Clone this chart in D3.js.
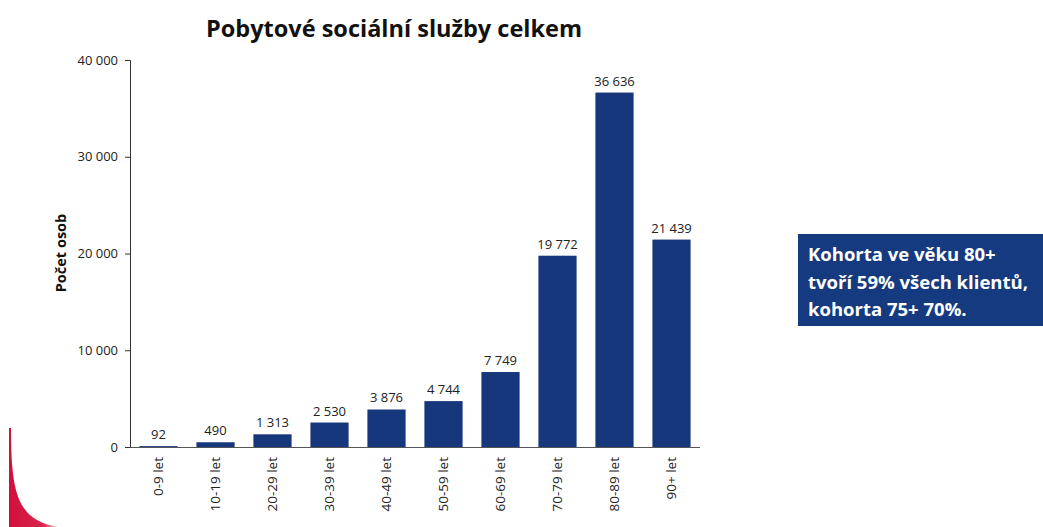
<!DOCTYPE html>
<html><head><meta charset="utf-8">
<script src="https://cdn.jsdelivr.net/npm/d3@7"></script>
<style>body{margin:0;background:#fff;} svg{display:block;font-family:"Open Sans",Lato,sans-serif;}</style>
</head><body>
<svg id="c" width="1043" height="527"></svg>
<script>
const categories = ["0-9 let","10-19 let","20-29 let","30-39 let","40-49 let","50-59 let","60-69 let","70-79 let","80-89 let","90+ let"];
const values = [92,490,1313,2530,3876,4744,7749,19772,36636,21439];
const yTicks = [0,10000,20000,30000,40000];
const title = "Pobytové sociální služby celkem";
const yLabel = "Počet osob";
const noteLines = ["Kohorta ve věku 80+","tvoří 59% všech klientů,","kohorta 75+ 70%."];

const fmtSp = v => d3.format(",")(v).replace(/,/g, " ");
const svg = d3.select("#c");
const color = "#16377b";

// decorative red corner
const defs = svg.append("defs");
const g1 = defs.append("linearGradient").attr("id","rg").attr("x1","0").attr("x2","1").attr("y1","0").attr("y2","0");
g1.append("stop").attr("offset","0").attr("stop-color","#d0103a");
g1.append("stop").attr("offset","0.7").attr("stop-color","#d8254e");
g1.append("stop").attr("offset","1").attr("stop-color","#f3c6d0");
svg.append("path").attr("d","M9,428 L11,428 C11,495 18,520 58,527 L9,527 Z").attr("fill","url(#rg)");

const x = d3.scaleBand().domain(categories).range([130,700]).paddingInner(0.33).paddingOuter(0.165);
const y = d3.scaleLinear().domain([0,40000]).range([447,60]);

svg.append("g").selectAll("rect").data(values).join("rect")
  .attr("x",(d,i)=>x(categories[i])).attr("width",x.bandwidth())
  .attr("y",d=>y(d)).attr("height",d=>y(0)-y(d)).attr("fill",color);

svg.append("g").selectAll("text").data(values).join("text")
  .attr("x",(d,i)=>x(categories[i])+x.bandwidth()/2).attr("y",d=>y(d)-7)
  .attr("text-anchor","middle").attr("font-size",13).attr("fill","#222")
  .text(d=>fmtSp(d));

const ya = svg.append("g").attr("transform","translate(130,0)")
  .call(d3.axisLeft(y).tickValues(yTicks).tickSize(5).tickPadding(7).tickFormat(fmtSp));
ya.select(".domain").attr("stroke","#333").attr("d","M-5,60.5H0.5V447.5");
ya.selectAll(".tick line").attr("stroke","#333");
ya.selectAll(".tick text").attr("font-size",13).attr("fill","#222").attr("font-family","'Open Sans',sans-serif");

const xa = svg.append("g").attr("transform","translate(0,447)")
  .call(d3.axisBottom(x).tickSize(0).tickPadding(0));
xa.select(".domain").attr("stroke","#555").attr("d","M130,0.5H700");
xa.selectAll(".tick text").attr("font-size",13.5).attr("fill","#222").attr("font-family","'Open Sans',sans-serif")
  .attr("transform","rotate(-90)").attr("text-anchor","end").attr("dy","0.35em").attr("x",-10).attr("y",0);

svg.append("text").attr("x",394).attr("y",37).attr("text-anchor","middle")
  .attr("font-size",23.5).attr("font-weight","bold").attr("fill","#111").text(title);

svg.append("text").attr("transform","translate(66,253) rotate(-90)").attr("text-anchor","middle")
  .attr("font-size",14.5).attr("font-weight","bold").attr("fill","#111").text(yLabel);

svg.append("rect").attr("x",798).attr("y",234).attr("width",250).attr("height",92).attr("fill","#153a7f");
svg.append("g").selectAll("text").data(noteLines).join("text")
  .attr("x",808).attr("y",(d,i)=>261+i*27.5).attr("font-size",18.5).attr("font-weight","bold").attr("fill","#fff")
  .text(d=>d);
</script>
</body></html>
